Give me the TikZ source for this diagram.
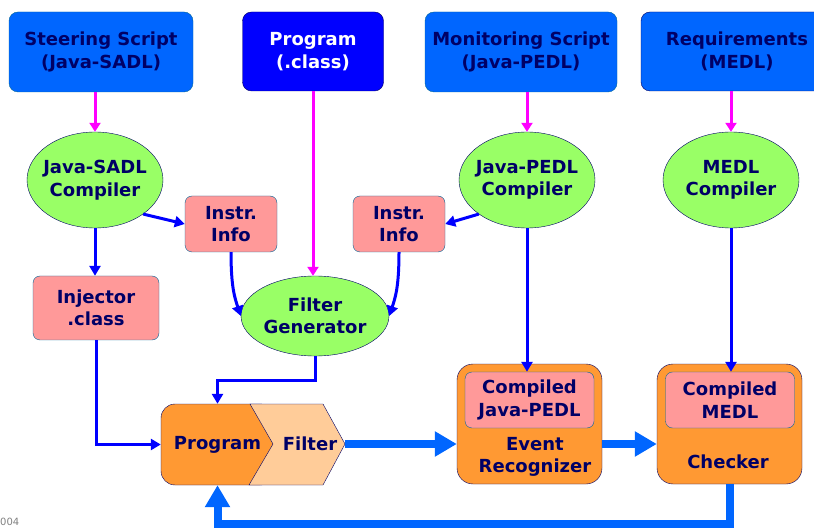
\documentclass[tikz,border=0pt]{standalone}
\usepackage{fontspec}
\setmainfont{DejaVu Sans}
\usetikzlibrary{arrows.meta,shapes.geometric}
\definecolor{srcblue}{RGB}{0,102,255}
\definecolor{progblue}{RGB}{0,0,255}
\definecolor{navytext}{RGB}{0,0,102}
\definecolor{compgreen}{RGB}{153,255,102}
\definecolor{infopink}{RGB}{255,153,153}
\definecolor{unitorange}{RGB}{255,153,51}
\definecolor{filterorange}{RGB}{255,204,153}
\definecolor{edgeteal}{RGB}{0,102,153}
\definecolor{feedmagenta}{RGB}{255,0,255}
\definecolor{flowblue}{RGB}{0,0,255}
\begin{document}
\begin{tikzpicture}[x=1pt,y=-1pt,
  every node/.style={font=\bfseries\fontsize{18}{22.5}\selectfont,text=navytext,align=center,inner sep=0pt},
  srcbox/.style={draw=edgeteal,fill=srcblue,rounded corners=9pt,minimum width=184,minimum height=80},
  compiler/.style={ellipse,draw=navytext,fill=compgreen,minimum width=136,minimum height=96},
  infobox/.style={draw=edgeteal,fill=infopink,rounded corners=7pt,minimum width=92,minimum height=56},
  unitbox/.style={draw=navytext,fill=unitorange,rounded corners=16pt,minimum width=145,minimum height=120},
  feed/.style={feedmagenta,line width=3pt,-{Triangle[width=11pt,length=9pt]}},
  flow/.style={flowblue,line width=3pt,-{Triangle[width=11pt,length=10pt]}},
  stream/.style={srcblue,line width=8pt,-{Triangle[width=24pt,length=22pt]}}]
  \useasboundingbox (0,0) rectangle (814,529);
  \clip (0,0) rectangle (814,529);
  \node[srcbox] (steer) at (101,52) {Steering Script\\(Java-SADL)};
  \node[srcbox,draw=navytext,fill=progblue,text=white,minimum width=141,minimum height=79] (prog) at (313,51.5) {Program\\(.class)};
  \node[srcbox,minimum width=192] (mon) at (521,52) {Monitoring Script\\(Java-PEDL)};
  \node[srcbox,draw=navytext,minimum width=192,minimum height=79] (req) at (737,51.5) {Requirements\\(MEDL)};
  \node[compiler,label={center:Java-SADL\\Compiler}] (jsc) at (95,180) {};
  \node[compiler,label={center:Java-PEDL\\Compiler}] (jpc) at (527,180) {};
  \node[compiler,label={center:MEDL\\Compiler}] (mc) at (731,180) {};
  \node[compiler,minimum width=148,minimum height=80,label={center:Filter\\Generator}] (fg) at (315,316) {};
  \node[infobox] (instrL) at (231,224) {Instr.\\Info};
  \node[infobox] (instrR) at (399,224) {Instr.\\Info};
  \node[infobox,minimum width=126,minimum height=64] (inj) at (96,308) {Injector\\.class};
  \node[unitbox,rounded corners=14pt,minimum width=113,minimum height=81] (pg) at (217.5,444.5) {Program};
  \coordinate (ftip) at (345,444);
  \filldraw[fill=filterorange,draw=navytext] (250,404) -- (323,404) -- (ftip) -- (323,485) -- (249,485) -- (273,444) -- cycle;
  \node (flt) at (310,444) {Filter};
  \node[unitbox] (er) at (529.5,424) {};
  \node[infobox,minimum width=129] (cjp) at (529.5,400) {Compiled\\Java-PEDL};
  \node (ertxt) at (535,457) {Event\\Recognizer};
  \node[unitbox] (ck) at (729.5,424) {};
  \node[infobox,minimum width=129] (cm) at (730,400) {Compiled\\MEDL};
  \node (cktxt) at (728,462) {Checker};
  \node[font=\fontsize{10}{11}\selectfont,text=gray,anchor=west] (year) at (0,522) {004};
  \draw[feed] (steer.south -| jsc.north) -- (jsc.north);
  \draw[feed] (prog.south) -- (prog.south |- fg.north);
  \draw[feed] (mon.south -| jpc.north) -- (jpc.north);
  \draw[feed] (req.south -| mc.north) -- (mc.north);
  \draw[flow] (jsc.south) -- (jsc.south |- inj.north);
  \draw[flow] (jsc.south east) -- (instrL.west);
  \draw[flow] (jpc.south west) -- (instrR.east);
  \draw[flow] (instrL.south) .. controls +(0,35) and +(-6,-18) .. (fg.west);
  \draw[flow] (instrR.south) .. controls +(0,35) and +(6,-18) .. (fg.east);
  \draw[flow] (inj.south) |- (pg.west);
  \draw[flow] (fg.south) -- ++(0,24) -| (pg.north);
  \draw[flow] (jpc.south) -- (jpc.south |- cjp.north);
  \draw[flow] (mc.south) -- (mc.south |- cm.north);
  \draw[stream] (ftip) -- (ftip -| er.west);
  \draw[stream] (ftip -| er.east) -- (ftip -| ck.west);
  \draw[stream] (ck.south) -- ++(0,40) -| (pg.south);
\end{tikzpicture}
\end{document}
